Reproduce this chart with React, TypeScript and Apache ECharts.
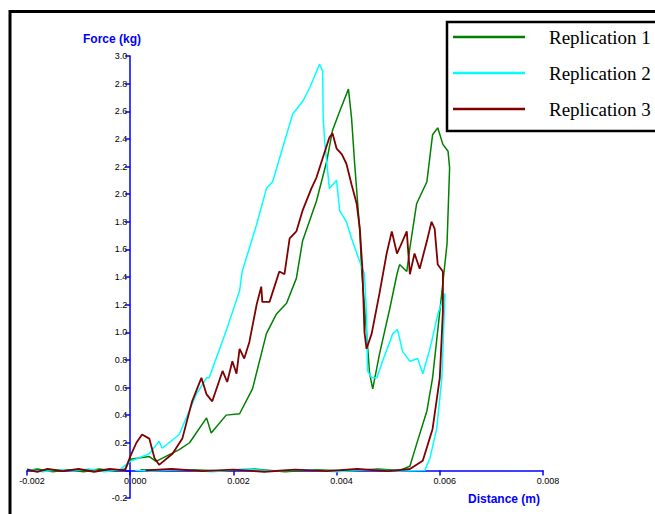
import React, { useEffect, useRef } from "react";
import * as echarts from "echarts";

const seriesNames = ["Replication 1", "Replication 2", "Replication 3"];
const seriesColors = ["#008000", "#00ffff", "#800000"];
const seriesWidths = [1.5, 1.5, 1.8];

const xMin = -0.002;
const xMax = 0.008;
const xInterval = 0.002;
const yMin = -0.2;
const yMax = 3.0;
const yInterval = 0.2;

const xTitle = "Distance (m)";
const yTitle = "Force (kg)";

// Replication 1 (distance m, force kg)
const rep1: [number, number][] = [
  [-0.002, 0.0], [-0.0018, 0.01], [-0.0015, -0.01], [-0.0012, 0.005], [-0.0009, -0.01],
  [-0.0006, 0.01], [-0.0003, -0.005], [-0.0001, 0.01], [0.0, 0.08],
  [0.00037, 0.1], [0.0005, 0.065], [0.00095, 0.15], [0.00115, 0.2], [0.00148, 0.38],
  [0.00157, 0.27], [0.00186, 0.4], [0.00212, 0.41], [0.00237, 0.59], [0.00264, 0.99],
  [0.00283, 1.13], [0.00303, 1.21], [0.00322, 1.39], [0.00334, 1.66], [0.00361, 1.95],
  [0.00381, 2.24], [0.00392, 2.46], [0.00406, 2.6], [0.00423, 2.76], [0.00429, 2.55],
  [0.00435, 2.22], [0.00445, 1.73], [0.00449, 1.42], [0.00458, 1.0], [0.00464, 0.7],
  [0.0047, 0.59], [0.00483, 0.84], [0.00503, 1.17], [0.00517, 1.42], [0.00522, 1.49],
  [0.00536, 1.44], [0.00542, 1.61], [0.00555, 1.93], [0.00575, 2.09], [0.00586, 2.43],
  [0.00596, 2.48], [0.00606, 2.36], [0.00616, 2.31], [0.00619, 2.19],
  [0.00614, 1.64], [0.006, 1.15], [0.00586, 0.67], [0.00575, 0.43], [0.00555, 0.19],
  [0.00542, 0.03], [0.00522, 0.0], [0.0048, 0.01], [0.0042, -0.005], [0.0036, 0.005],
  [0.003, -0.01], [0.0024, 0.01], [0.0018, -0.005], [0.0012, 0.005], [0.0006, 0.0],
  [0.0002, 0.005],
];

// Replication 2
const rep2: [number, number][] = [
  [-0.002, 0.01], [-0.0017, -0.01], [-0.0014, 0.005], [-0.0011, -0.005], [-0.0008, 0.01],
  [-0.0005, -0.01], [-0.0002, 0.005], [0.0, 0.065],
  [0.00037, 0.12], [0.00056, 0.21], [0.00062, 0.16], [0.00095, 0.26], [0.00128, 0.55],
  [0.00148, 0.67], [0.00153, 0.67], [0.00186, 1.01], [0.00212, 1.3], [0.00217, 1.44],
  [0.00245, 1.78], [0.00264, 2.04], [0.00276, 2.09], [0.00295, 2.33], [0.00315, 2.58],
  [0.00334, 2.67], [0.00348, 2.77], [0.00367, 2.94], [0.00373, 2.89], [0.00374, 2.55],
  [0.00377, 2.38], [0.00386, 2.04], [0.004, 2.1], [0.00406, 1.88], [0.00419, 1.8],
  [0.00429, 1.68], [0.00445, 1.51], [0.00454, 1.42], [0.00458, 1.13], [0.0046, 0.72],
  [0.00468, 0.67], [0.00478, 0.67], [0.00489, 0.79], [0.00509, 0.99], [0.00518, 1.02],
  [0.00528, 0.86], [0.00542, 0.79], [0.00557, 0.81], [0.00567, 0.7], [0.00581, 0.88],
  [0.00596, 1.13], [0.0061, 1.28],
  [0.00604, 0.67], [0.00594, 0.3], [0.00581, 0.09], [0.00571, 0.0], [0.0052, -0.005],
  [0.0046, 0.005], [0.004, -0.01], [0.0034, 0.005], [0.0028, -0.005], [0.0022, 0.01],
  [0.0016, -0.01], [0.001, 0.005], [0.0004, -0.005], [0.0001, 0.0],
];

// Replication 3
const rep3: [number, number][] = [
  [-0.002, 0.005], [-0.0018, -0.01], [-0.0016, 0.01], [-0.0013, -0.005], [-0.001, 0.01],
  [-0.0007, -0.01], [-0.0004, 0.01], [-0.0001, 0.0], [0.0, 0.1],
  [0.00012, 0.2], [0.00023, 0.26], [0.00037, 0.23], [0.00047, 0.09], [0.00056, 0.04],
  [0.00082, 0.12], [0.00101, 0.23], [0.0012, 0.5], [0.00138, 0.67], [0.00148, 0.55],
  [0.00159, 0.5], [0.00179, 0.72], [0.00188, 0.64], [0.00198, 0.79], [0.00206, 0.7],
  [0.00212, 0.88], [0.00221, 0.81], [0.00231, 0.93], [0.00245, 1.2], [0.00254, 1.33],
  [0.00256, 1.22], [0.0027, 1.22], [0.00283, 1.37], [0.00289, 1.44], [0.00299, 1.42],
  [0.00309, 1.68], [0.00322, 1.73], [0.00334, 1.88], [0.00351, 2.04], [0.00361, 2.12],
  [0.00373, 2.26], [0.00386, 2.41], [0.00392, 2.44], [0.004, 2.33], [0.0041, 2.29],
  [0.00419, 2.22], [0.00429, 2.07], [0.00439, 1.93], [0.00445, 1.75], [0.0045, 1.46],
  [0.00454, 1.0], [0.00458, 0.88], [0.00468, 0.99], [0.00483, 1.28], [0.00497, 1.57],
  [0.00507, 1.73], [0.00517, 1.57], [0.00522, 1.61], [0.00536, 1.73], [0.00542, 1.42],
  [0.00551, 1.57], [0.00561, 1.46], [0.00575, 1.66], [0.00584, 1.8], [0.0059, 1.75],
  [0.00596, 1.49], [0.00606, 1.44],
  [0.00606, 1.15], [0.006, 0.67], [0.00586, 0.3], [0.00567, 0.07], [0.00542, 0.01],
  [0.005, -0.005], [0.0044, 0.01], [0.0038, -0.005], [0.0032, 0.005], [0.0026, -0.01],
  [0.002, 0.005], [0.0014, -0.005], [0.0008, 0.01], [0.0003, 0.0],
];

const seriesData = [rep1, rep2, rep3];

const gridLeft = 27;
const gridTop = 56;
const gridWidth = 516;
const gridHeight = 442;

export default function App() {
  const ref = useRef<HTMLDivElement>(null);

  useEffect(() => {
    document.body.style.margin = "0";
    const chart = echarts.init(ref.current!, null, { renderer: "svg" });
    const axisBlue = "#0000ff";
    // place axes through the origin (x = 0, y = 0) by offsetting them from the grid edges
    const yAxisOffset = -(gridWidth * (0 - xMin)) / (xMax - xMin);
    const xAxisOffset = -(gridHeight * (0 - yMin)) / (yMax - yMin);
    chart.setOption({
      animation: false,
      backgroundColor: "#ffffff",
      grid: { left: gridLeft, top: gridTop, width: gridWidth, height: gridHeight, containLabel: false },
      xAxis: {
        type: "value",
        min: xMin,
        max: xMax,
        interval: xInterval,
        position: "bottom",
        offset: xAxisOffset,
        splitLine: { show: false },
        axisLine: { onZero: false, lineStyle: { color: axisBlue, width: 1.5 } },
        axisTick: { show: true, length: 5, lineStyle: { color: axisBlue, width: 1.5 } },
        axisLabel: {
          show: true,
          showMinLabel: true,
          showMaxLabel: true,
          margin: 6,
          color: "#000",
          fontSize: 9,
          fontFamily: "Liberation Sans",
          padding: [0, 0, 0, 10],
          formatter: (v: number) => v.toFixed(3),
        },
      },
      yAxis: {
        type: "value",
        min: yMin,
        max: yMax,
        interval: yInterval,
        position: "left",
        offset: yAxisOffset,
        splitLine: { show: false },
        axisLine: { onZero: false, lineStyle: { color: axisBlue, width: 1.5 } },
        axisTick: { show: true, length: 5, lineStyle: { color: axisBlue, width: 1.5 } },
        axisLabel: {
          show: true,
          showMinLabel: true,
          showMaxLabel: true,
          margin: 3,
          color: "#000",
          fontSize: 9,
          fontFamily: "Liberation Sans",
          formatter: (v: number) => (Math.abs(v) < 1e-9 ? "" : v.toFixed(1)),
        },
      },
      legend: {
        show: true,
        orient: "vertical",
        left: 447,
        top: 22,
        data: seriesNames,
        icon: "rect",
        itemWidth: 72,
        itemHeight: 2.5,
        itemGap: 14,
        padding: [4, 20, 11, 6],
        borderColor: "#000",
        borderWidth: 2.5,
        backgroundColor: "#fff",
        textStyle: {
          color: "#000",
          fontFamily: "Liberation Serif",
          fontSize: 19,
          lineHeight: 22,
          padding: [0, 0, 0, 19],
        },
      },
      graphic: [
        {
          type: "rect",
          shape: { x: 10, y: 11.5, width: 800, height: 600 },
          style: { fill: "none", stroke: "#000", lineWidth: 3 },
          silent: true,
          z: 0,
        },
        {
          type: "text",
          x: 83,
          y: 33,
          style: {
            text: yTitle,
            fill: axisBlue,
            font: "bold 12px 'Liberation Sans'",
          },
        },
        {
          type: "text",
          x: 468,
          y: 493,
          style: {
            text: xTitle,
            fill: axisBlue,
            font: "bold 12px 'Liberation Sans'",
          },
        },
      ],
      series: seriesData.map((d, i) => ({
        name: seriesNames[i],
        type: "line",
        data: d,
        symbol: "none",
        showSymbol: false,
        smooth: false,
        color: seriesColors[i],
        lineStyle: { color: seriesColors[i], width: seriesWidths[i] },
        z: 3,
      })),
    });
    return () => chart.dispose();
  }, []);

  return <div ref={ref} style={{ width: 655, height: 514 }} />;
}
